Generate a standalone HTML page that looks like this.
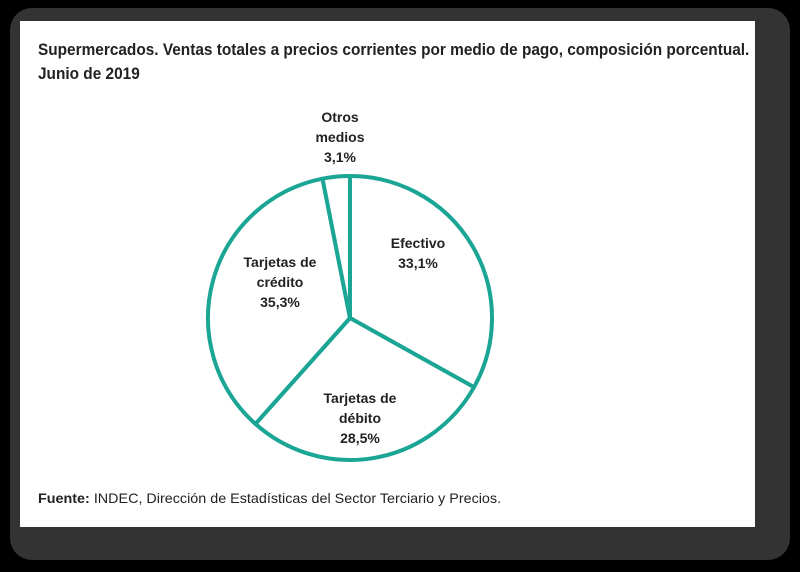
<!DOCTYPE html>
<html><head><meta charset="utf-8"><style>
body{margin:0;width:800px;height:572px;background:#000;overflow:hidden;font-family:"Liberation Sans",sans-serif}
#frame{position:absolute;left:10px;top:8px;width:780px;height:552px;background:#333;border-radius:22px}
#card{position:absolute;left:20px;top:21px;width:735px;height:506px;background:#fff}
.t{position:absolute;font-weight:bold;font-size:17px;color:#222;transform:scaleX(0.905);transform-origin:left top;white-space:nowrap}
#src{position:absolute;left:38px;top:490px;font-size:14px;color:#222;transform:scaleX(1.025);transform-origin:left top;white-space:nowrap}
</style></head><body>
<div id="frame"></div>
<div id="card"></div>
<div class="t" style="left:38px;top:40px">Supermercados. Ventas totales a precios corrientes por medio de pago, composición porcentual.</div>
<div class="t" style="left:38px;top:64px">Junio de 2019</div>
<svg id="pie" width="800" height="572" style="position:absolute;left:0;top:0"></svg>
<div id="src"><b>Fuente:</b> INDEC, Dirección de Estadísticas del Sector Terciario y Precios.</div>
<script>
const categories=[["Efectivo"],["Tarjetas de","débito"],["Tarjetas de","crédito"],["Otros","medios"]];
const values=[33.1,28.5,35.3,3.1];
const labels=["33,1%","28,5%","35,3%","3,1%"];
const cx=350,cy=318,r=142;
const NS="http://www.w3.org/2000/svg";
const svg=document.getElementById('pie');
const total=values.reduce((a,b)=>a+b,0);
function pt(frac,rad){const a=frac*2*Math.PI;return [cx+rad*Math.sin(a),cy-rad*Math.cos(a)];}
let cum=0;
const labelPos=[[418,258],[360,423],[280,287],[340,142]];
values.forEach((v,i)=>{
  const s=cum/total,e=(cum+v)/total;cum+=v;
  const p0=pt(s,r),p1=pt(e,r);
  const path=document.createElementNS(NS,'path');
  path.setAttribute('d',`M${cx},${cy}L${p0[0]},${p0[1]}A${r},${r} 0 ${e-s>0.5?1:0} 1 ${p1[0]},${p1[1]}Z`);
  path.setAttribute('fill','#fff');path.setAttribute('stroke','#1aa594');path.setAttribute('stroke-width','4');path.setAttribute('stroke-linejoin','round');
  
  
  svg.appendChild(path);
});
values.forEach((v,i)=>{
  const lines=categories[i].concat([labels[i]]);
  const[x,y]=labelPos[i];
  const t=document.createElementNS(NS,'text');
  t.setAttribute('text-anchor','middle');t.setAttribute('font-size','14');t.setAttribute('font-weight','bold');t.setAttribute('fill','#222');
  
  
  const y0=y-(lines.length-1)*10;
  lines.forEach((l,j)=>{const ts=document.createElementNS(NS,'tspan');ts.setAttribute('x',x);ts.setAttribute('y',y0+j*20);ts.textContent=l;t.appendChild(ts);});
  svg.appendChild(t);
});
</script>
</body></html>
